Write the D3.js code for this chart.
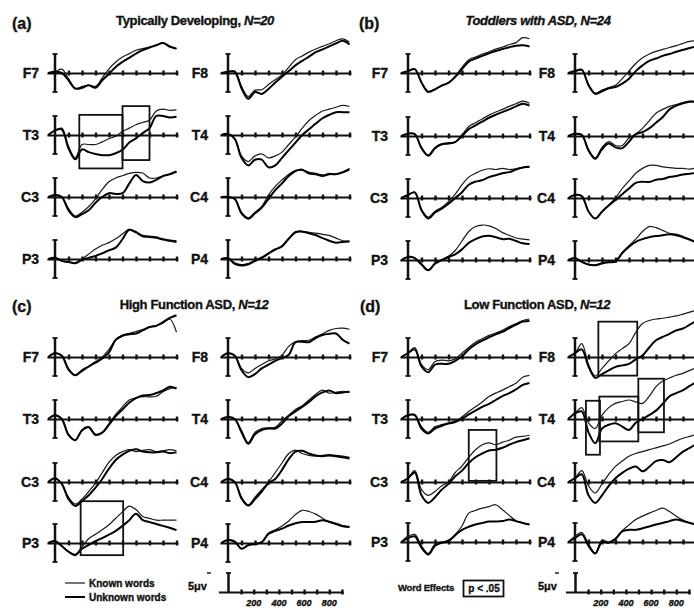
<!DOCTYPE html>
<html><head><meta charset="utf-8">
<script src="https://cdn.jsdelivr.net/npm/d3@7"></script>
<style>
body{margin:0;background:#fff}
svg{display:block}
text{font-family:"Liberation Sans",Arial,Helvetica,sans-serif;fill:#111;font-weight:bold;stroke:#111;stroke-width:0.35px;paint-order:stroke}
</style>
</head><body>
<svg id="chart" width="694" height="608"></svg>
<script>
// ---------------- DATA ----------------
const times = [-50,0,50,100,150,200,250,300,350,400,450,500,550,600,650,700,750,800,850,900];
const leftElectrodes = ["F7","T3","C3","P3"];
const rightElectrodes = ["F8","T4","C4","P4"];
const panelKeys = ["a","b","c","d"];
const panelLetters = ["(a)","(b)","(c)","(d)"];
const panelTitles = ["Typically Developing, ","Toddlers with ASD, ","High Function ASD, ","Low Function ASD, "];
const panelN = ["N=20","N=24","N=12","N=12"];
const tickLabels = [200,400,600,800];
const legendLabels = ["Known words","Unknown words"];
const sigLabel = "Word Effects";
const sigText = "p < .05";
const scaleLabel = "5\u03bcv";

// values in microvolts (plotted upward), one per time point
const a_F7_known   = [0,0.3,1.0,-1.5,-4.0,-3.6,-3.2,-3.5,-1.3,1.1,2.9,4.2,5.1,6.0,6.4,6.8,7.3,7.9,6.8,6.4];
const a_F7_unknown = [0,0.3,0,-1.9,-4.1,-3.9,-3.2,-3.9,-1.9,-0.2,1.6,2.9,4.0,5.1,6.0,6.7,7.3,7.9,7.0,6.4];
const a_F8_known   = [0,0.3,0.5,-3.5,-6.2,-4.5,-4.4,-3.0,-1.8,-0.5,1.5,3.5,4.5,5.5,6.3,7.0,7.7,8.5,9.0,8.1];
const a_F8_unknown = [0,0.3,0.3,-4.0,-6.8,-5.0,-5.5,-4.2,-2.5,-1.0,0.5,2.0,3.2,4.3,5.5,6.2,7.0,7.8,8.5,7.5];
const a_T3_known   = [0,1.2,1.8,-3.0,-6.0,-2.5,-2.5,-2.5,-1.8,-1.0,-0.3,0.9,1.8,2.7,3.3,3.9,6.3,6.8,6.5,6.6];
const a_T3_unknown = [0,1.2,1.5,-3.5,-6.4,-3.8,-4.5,-5.0,-5.3,-5.3,-4.8,-3.9,-2.0,-0.9,0.5,1.8,5.0,5.0,4.6,4.8];
const a_T4_known   = [0,0.3,-1.0,-5.5,-7.0,-5.5,-5.0,-6.0,-5.5,-4.5,-2.5,-0.5,1.8,3.8,5.2,6.3,6.8,7.3,7.8,7.5];
const a_T4_unknown = [0,0.3,-1.0,-6.0,-8.0,-6.5,-6.5,-8.5,-8.0,-6.0,-4.0,-2.0,0,1.5,3.0,4.4,5.3,6.0,6.0,6.0];
const a_C3_known   = [0,0.5,0,-3.0,-5.0,-4.0,-2.5,-0.5,2.0,4.0,5.0,5.6,6.2,6.5,6.3,5.0,5.0,5.6,6.0,6.7];
const a_C3_unknown = [0,0.5,0,-3.5,-5.3,-4.5,-3.5,-1.5,0,1.0,0.8,1.0,3.5,5.8,4.2,3.8,4.5,5.5,6.0,6.7];
const a_C4_known   = [0,0,-0.5,-4.0,-5.5,-4.0,-2.5,0.5,2.8,4.5,6.0,7.0,7.0,6.5,6.2,5.8,6.2,6.0,6.5,7.5];
const a_C4_unknown = [0,0,-0.5,-4.3,-5.7,-4.3,-2.8,-0.5,1.8,3.6,5.5,6.8,7.2,6.2,6.0,5.5,6.0,6.0,6.5,7.3];
const a_P3_known   = [0,0.3,-0.5,-0.8,-1.0,0,1.3,2.6,3.6,4.3,5.3,6.6,7.8,7.2,6.2,6.0,5.8,5.3,5.0,4.8];
const a_P3_unknown = [0,0.3,-0.5,-0.8,-1.1,-0.2,0.3,0.8,1.5,2.3,3.0,5.2,7.7,7.0,6.0,5.8,5.6,5.1,4.8,4.5];
const a_P4_known   = [0,0.2,-1.0,-1.5,-1.2,-0.3,0.5,1.6,2.6,3.5,5.5,7.2,7.3,7.0,6.8,6.5,6.2,5.5,4.8,4.7];
const a_P4_unknown = [0,0.2,-1.3,-1.7,-1.4,-0.5,0.3,1.4,2.5,3.3,5.3,7.0,7.2,6.8,6.3,5.5,4.8,4.3,4.5,4.6];

const b_F7_known   = [0,0.5,1.0,-2.5,-4.8,-4.2,-3.3,-2.5,-0.8,1.5,3.5,4.2,5.0,5.6,6.3,6.8,7.5,8.0,9.3,9.0];
const b_F7_unknown = [0,0.5,1.0,-2.5,-5.0,-4.3,-3.3,-2.6,-1.0,1.0,3.0,3.8,4.5,5.2,5.8,6.3,6.8,7.2,7.3,7.0];
const b_F8_known   = [0,0.5,1.0,-3.0,-5.3,-4.5,-3.8,-3.2,-1.5,0.5,2.5,4.0,5.0,5.7,6.2,6.7,7.2,7.8,8.3,8.5];
const b_F8_unknown = [0,0.5,0.8,-3.2,-5.5,-4.8,-4.0,-3.7,-2.8,-1.5,0.5,2.0,3.2,3.8,4.5,5.0,5.6,6.1,6.6,7.0];
const b_T3_known   = [0,0.6,0.5,-3.0,-5.0,-3.0,-2.0,-1.8,-1.5,0.3,2.5,3.5,4.5,5.5,6.3,7.0,7.8,8.5,9.2,8.6];
const b_T3_unknown = [0,0.6,0.5,-3.2,-5.2,-3.2,-2.2,-2.0,-1.6,0,1.8,2.8,3.8,4.8,5.6,6.3,7.0,7.8,8.5,8.0];
const b_T4_known   = [0,0.6,0.3,-3.5,-5.8,-3.0,-1.5,-2.5,-2.5,-0.5,0.5,2.0,4.0,6.0,7.0,7.8,8.3,8.8,9.2,9.0];
const b_T4_unknown = [0,0.6,0.3,-3.8,-6.0,-3.5,-2.0,-3.0,-3.2,-1.5,0.5,1.0,2.0,3.5,5.0,7.0,8.0,8.6,9.0,9.0];
const b_C3_known   = [0,0.8,1.5,-3.0,-5.0,-3.5,-2.5,-1.0,1.0,3.5,5.5,6.5,7.3,7.7,7.5,7.8,7.5,7.7,8.0,8.2];
const b_C3_unknown = [0,0.8,1.5,-3.2,-5.4,-3.8,-2.8,-1.5,0,1.5,3.5,4.3,4.7,5.5,6.0,6.5,6.8,7.5,8.0,8.2];
const b_C4_known   = [0,0.8,0.5,-3.5,-5.4,-3.5,-1.8,0,2.5,4.5,6.5,7.8,8.6,8.6,8.2,8.0,7.8,7.8,7.6,8.0];
const b_C4_unknown = [0,0.8,0.5,-3.5,-5.4,-3.6,-2.0,-0.5,1.0,2.5,4.0,4.3,4.2,4.8,5.0,5.5,5.8,6.2,6.4,6.6];
const b_P3_known   = [0,0.8,0.5,-1.0,-2.6,-0.8,0,1.0,2.5,5.0,7.5,8.8,9.2,9.0,8.3,7.2,6.5,5.8,5.5,5.3];
const b_P3_unknown = [0,0.8,0.5,-1.2,-2.7,-1.0,0,0.8,1.5,2.8,4.5,5.5,6.2,6.4,6.0,5.5,5.6,5.0,4.4,4.2];
const b_P4_known   = [0,0.5,-0.5,-1.2,-1.3,-0.8,-0.5,-0.3,2.0,3.8,5.5,7.5,8.8,8.5,7.8,7.0,6.8,6.2,5.5,4.8];
const b_P4_unknown = [0,0.5,-0.5,-1.2,-1.4,-0.9,-0.6,-0.4,1.8,3.5,4.8,5.5,6.0,6.3,6.5,6.8,6.5,6.0,5.3,4.6];

const c_F7_known   = [0,1.0,0.5,-3.0,-4.8,-3.8,-2.5,-1.2,0,2.0,4.6,5.8,6.2,6.7,7.2,7.9,8.3,8.9,10.0,6.5];
const c_F7_unknown = [0,1.0,0.3,-3.3,-4.8,-3.5,-2.5,-1.5,-0.4,1.2,4.5,5.6,6.0,6.2,7.0,7.9,8.2,9.2,10.3,11.0];
const c_F8_known   = [0,1.0,0.5,-3.0,-4.2,-3.0,-2.0,-1.0,-0.5,0.5,2.8,4.0,4.3,4.4,5.3,6.1,7.0,7.5,7.6,7.3];
const c_F8_unknown = [0,1.0,0.3,-3.5,-5.3,-4.5,-3.0,-2.0,-1.0,-0.3,0.6,3.9,4.0,3.9,5.0,5.8,6.1,6.2,4.5,3.5];
const c_T3_known   = [0,1.0,0,-4.0,-5.5,-2.8,-2.0,-4.0,-3.5,-1.2,1.2,3.2,5.0,5.6,5.9,5.8,6.0,7.2,8.0,8.3];
const c_T3_unknown = [0,1.0,0,-4.2,-5.6,-3.0,-2.2,-4.2,-3.6,-1.5,0.8,2.5,4.3,5.5,6.2,6.3,6.8,7.5,8.5,8.0];
const c_T4_known   = [0,0.5,0,-3.0,-6.2,-3.5,-2.5,-2.3,-2.2,-0.5,1.0,2.5,3.5,5.0,6.5,7.6,6.8,7.0,7.3,7.0];
const c_T4_unknown = [0,0.5,0,-3.5,-6.5,-4.0,-2.9,-2.5,-2.5,-1.2,0.8,2.0,3.2,4.5,6.0,7.0,7.5,6.8,7.0,7.2];
const c_C3_known   = [0,1.0,-0.5,-4.0,-5.8,-4.5,-2.5,-0.3,2.5,5.2,7.0,8.0,8.5,8.0,8.3,8.5,8.0,8.2,8.5,8.2];
const c_C3_unknown = [0,1.0,-0.5,-4.5,-6.3,-5.0,-3.5,-1.5,0.8,3.5,5.8,7.2,8.2,8.6,8.0,7.8,7.8,8.0,7.6,7.8];
const c_C4_known   = [0,0.8,0,-4.0,-6.0,-4.0,-2.0,0,2.5,5.0,7.5,8.4,7.5,7.0,6.8,7.0,7.2,7.0,6.8,6.5];
const c_C4_unknown = [0,0.8,0,-4.3,-6.2,-4.5,-2.5,-0.3,0.8,3.2,6.0,8.0,8.2,7.5,7.0,6.8,7.0,6.8,6.5,6.2];
const c_P3_known   = [0,0.5,-0.8,-2.2,-3.0,-1.0,1.2,2.3,3.5,4.8,6.5,8.2,9.7,8.8,7.0,6.5,6.0,6.0,6.0,6.0];
const c_P3_unknown = [0,0.5,-0.8,-2.3,-3.2,-1.5,-0.5,0.5,1.3,2.2,3.2,4.5,6.0,7.7,6.0,5.5,5.0,4.5,4.0,3.4];
const c_P4_known   = [0,0.8,0.5,-1.5,-0.5,-0.2,0.3,2.6,3.5,4.5,5.8,7.5,8.6,8.3,7.6,6.5,5.5,5.2,4.6,4.3];
const c_P4_unknown = [0,0.8,0.3,-1.5,-0.6,-0.3,0.2,2.4,3.2,3.8,4.6,5.2,5.5,5.5,5.6,6.0,5.6,5.0,4.4,4.2];

const d_F7_known   = [0,1.0,2.5,-2.0,-3.3,-1.2,-0.8,-1.0,-0.5,1.0,2.5,3.9,4.8,5.7,6.3,7.0,8.0,8.8,9.6,10.0];
const d_F7_unknown = [0,1.0,2.0,-2.5,-4.0,-2.0,-1.8,-1.8,-1.0,0.2,2.0,3.3,4.3,5.2,6.0,6.6,7.6,8.5,9.3,9.5];
const d_F8_known   = [0,1.0,3.5,-2.0,-5.0,-3.0,-1.0,0.9,2.2,3.5,6.5,8.8,9.6,10.0,10.2,10.5,10.8,11.3,11.8,12.3];
const d_F8_unknown = [0,1.0,2.0,-2.5,-5.5,-4.5,-3.5,-2.6,-2.2,-1.8,-0.6,0.4,2.5,4.4,5.3,6.1,7.0,7.5,8.5,9.6];
const d_T3_known   = [0,1.0,1.2,-2.0,-3.5,-2.0,-1.5,-1.0,-0.5,0.5,2.0,3.2,4.5,5.9,6.8,7.6,8.5,9.4,11.0,11.5];
const d_T3_unknown = [0,1.0,1.0,-2.5,-3.8,-2.5,-1.8,-1.2,-0.8,0,1.2,2.2,3.2,4.0,5.0,6.0,6.8,7.8,9.0,9.5];
const d_T4_known   = [0,1.5,3.0,-1.0,-2.5,1.0,3.0,4.1,4.6,5.0,4.5,4.1,6.0,8.5,10.0,10.8,11.5,12.0,12.8,13.5];
const d_T4_unknown = [0,1.5,2.0,-3.5,-6.4,-2.5,-1.5,-1.1,-2.0,-2.9,-1.0,0,1.0,2.2,4.0,6.0,6.8,7.6,8.7,9.8];
const d_C3_known   = [0,1.0,3.0,-2.0,-3.5,-2.5,-1.0,0,2.5,4.2,6.5,8.5,9.8,10.3,9.8,10.5,11.0,11.8,12.0,12.3];
const d_C3_unknown = [0,1.0,2.5,-3.5,-5.5,-4.0,-2.0,-0.5,1.5,3.0,5.0,6.5,7.5,8.3,8.5,9.0,9.8,10.5,11.0,11.5];
const d_C4_known   = [0,1.0,3.0,-1.0,-2.9,-0.5,2.0,4.1,5.5,6.8,7.5,8.0,8.5,9.0,9.5,10.0,10.8,11.5,12.0,12.5];
const d_C4_unknown = [0,1.0,2.0,-3.5,-5.5,-3.5,-1.0,1.0,2.4,3.5,4.1,2.8,4.0,5.5,5.8,5.2,6.5,8.0,9.0,10.0];
const d_P3_known   = [0,1.5,2.0,-1.0,-3.0,-0.5,0,0.5,2.0,4.2,7.6,8.3,8.9,9.3,9.8,8.5,7.0,5.6,5.0,4.6];
const d_P3_unknown = [0,1.0,1.5,-1.5,-3.3,-1.0,-0.2,0.2,1.8,3.2,4.0,4.6,5.0,5.4,5.4,5.5,5.9,5.5,5.0,4.6];
const d_P4_known   = [0,1.5,2.5,-0.5,-2.9,0.5,0,1.0,3.0,4.5,5.9,6.8,7.6,8.3,8.9,8.0,6.8,5.8,5.0,4.8];
const d_P4_unknown = [0,1.0,2.0,-1.0,-3.0,0,-0.2,0.8,2.8,3.2,3.2,3.6,4.1,4.6,5.0,5.5,5.9,5.5,5.0,4.6];

// significant word-effect windows: [electrode, startMs, endMs, topUV, bottomUV]
const boxes_a = [["T3",180,500,5.3,-8.8],["T3",500,700,7.6,-6.6]];
const boxes_b = [];
const boxes_c = [["P3",190,505,11.0,-3.2]];
const boxes_d = [["F8",173,461,9.3,-4.9],["T4",81,185,4.8,-9.4],["T4",180,469,5.9,-5.9],["T4",469,659,10.6,-3.5],["C3",450,655,13.7,0.3]];

// lookup assembled from the named arrays
const waves = {
  a:{F7:[a_F7_known,a_F7_unknown],F8:[a_F8_known,a_F8_unknown],T3:[a_T3_known,a_T3_unknown],T4:[a_T4_known,a_T4_unknown],C3:[a_C3_known,a_C3_unknown],C4:[a_C4_known,a_C4_unknown],P3:[a_P3_known,a_P3_unknown],P4:[a_P4_known,a_P4_unknown]},
  b:{F7:[b_F7_known,b_F7_unknown],F8:[b_F8_known,b_F8_unknown],T3:[b_T3_known,b_T3_unknown],T4:[b_T4_known,b_T4_unknown],C3:[b_C3_known,b_C3_unknown],C4:[b_C4_known,b_C4_unknown],P3:[b_P3_known,b_P3_unknown],P4:[b_P4_known,b_P4_unknown]},
  c:{F7:[c_F7_known,c_F7_unknown],F8:[c_F8_known,c_F8_unknown],T3:[c_T3_known,c_T3_unknown],T4:[c_T4_known,c_T4_unknown],C3:[c_C3_known,c_C3_unknown],C4:[c_C4_known,c_C4_unknown],P3:[c_P3_known,c_P3_unknown],P4:[c_P4_known,c_P4_unknown]},
  d:{F7:[d_F7_known,d_F7_unknown],F8:[d_F8_known,d_F8_unknown],T3:[d_T3_known,d_T3_unknown],T4:[d_T4_known,d_T4_unknown],C3:[d_C3_known,d_C3_unknown],C4:[d_C4_known,d_C4_unknown],P3:[d_P3_known,d_P3_unknown],P4:[d_P4_known,d_P4_unknown]}
};
const boxes = {a:boxes_a,b:boxes_b,c:boxes_c,d:boxes_d};

// ---------------- LAYOUT ----------------
const layout = {
  a:{cols:[55,228], rows:[73,135,197,259], letterX:12, titleX:195, titleY:25, letterY:29, labelGap:[16,20]},
  b:{cols:[408,575], rows:[73,136,198,260], letterX:359, titleX:538, titleY:25, letterY:29, labelGap:[20,20]},
  c:{cols:[55,228], rows:[357,419,482,543], letterX:12, titleX:194, titleY:309, letterY:312, labelGap:[16,20]},
  d:{cols:[408,575], rows:[357,419,482,542], letterX:360, titleX:537, titleY:309, letterY:312, labelGap:[20,20]}
};
const PX_PER_MS = 0.135, HALF_BAR = 19; // 5 microvolts = 19 px

const svg = d3.select("#chart");
const ink = "#111";

function miniPlot(g, x0, y0, known, unknown, label, gap, boxList){
  const x = d3.scaleLinear().domain([-60, 910]).range([x0 - 60*PX_PER_MS, x0 + 910*PX_PER_MS]);
  const y = d3.scaleLinear().domain([-5, 5]).range([y0 + HALF_BAR, y0 - HALF_BAR]);
  const ax = g.append("g").attr("transform", `translate(0,${y0})`)
    .call(d3.axisBottom(x).tickValues(d3.range(100, 1000, 100)).tickSize(2.5).tickSizeOuter(0).tickFormat(""));
  ax.select(".domain").attr("stroke", ink).attr("stroke-width", 2);
  ax.selectAll(".tick line").attr("y1", -2.5).attr("y2", 2.5).attr("stroke", ink).attr("stroke-width", 2.4);
  g.append("line").attr("x1", x(0)).attr("x2", x(0)).attr("y1", y(-5)).attr("y2", y(5)).attr("stroke", ink).attr("stroke-width", 2.5);
  [-5,5].forEach(v => g.append("line").attr("x1", x(0)-2.5).attr("x2", x(0)+2.5).attr("y1", y(v)).attr("y2", y(v)).attr("stroke", ink).attr("stroke-width", 1.8));
  g.append("text").attr("x", x0 - gap).attr("y", y0 + 5).attr("text-anchor", "end").attr("font-size", 14).text(label);
  const line = d3.line().x((d,i) => x(times[i])).y(d => y(d)).curve(d3.curveCatmullRom.alpha(0.5));
  g.append("path").attr("d", line(known)).attr("fill", "none").attr("stroke", "#1a1a1a").attr("stroke-width", 1.2);
  g.append("path").attr("d", line(unknown)).attr("fill", "none").attr("stroke", "#000").attr("stroke-width", 2);
  boxList.filter(b => b[0] === label).forEach(b => {
    g.append("rect").attr("x", x(b[1])).attr("y", y(b[3])).attr("width", x(b[2]) - x(b[1])).attr("height", y(b[4]) - y(b[3]))
      .attr("fill", "none").attr("stroke", ink).attr("stroke-width", 1.8);
  });
}

panelKeys.forEach((k, pi) => {
  const L = layout[k];
  const g = svg.append("g");
  g.append("text").attr("x", L.letterX).attr("y", L.letterY).attr("font-size", 16).text(panelLetters[pi]);
  const t = g.append("text").attr("x", L.titleX).attr("y", L.titleY).attr("text-anchor", "middle").attr("font-size", 13)
    .attr("letter-spacing", -0.35).attr("font-style", k === "b" ? "italic" : "normal");
  t.append("tspan").text(panelTitles[pi]);
  t.append("tspan").attr("font-style", "italic").text(panelN[pi]);
  [leftElectrodes, rightElectrodes].forEach((els, ci) => {
    els.forEach((el, ri) => {
      const w = waves[k][el];
      miniPlot(g, L.cols[ci], L.rows[ri], w[0], w[1], el, L.labelGap[ci], boxes[k]);
    });
  });
});

// ---------------- SCALE ROWS ----------------
function scaleRow(x0, y0, textX, dashX){
  const g = svg.append("g");
  const x = d3.scaleLinear().domain([-80, 910]).range([x0 - 80*0.126, x0 + 910*0.126]);
  const y = d3.scaleLinear().domain([0, 5]).range([y0, y0 - HALF_BAR]);
  const ax = g.append("g").attr("transform", `translate(0,${y0})`)
    .call(d3.axisBottom(x).tickValues(d3.range(100, 1000, 100)).tickSize(2.5).tickSizeOuter(0).tickFormat(""));
  ax.select(".domain").attr("stroke", ink).attr("stroke-width", 2);
  ax.selectAll(".tick line").attr("y1", -2.5).attr("y2", 2.5).attr("stroke", ink).attr("stroke-width", 2.4);
  g.append("line").attr("x1", x(0)).attr("x2", x(0)).attr("y1", y(0)).attr("y2", y(5)).attr("stroke", ink).attr("stroke-width", 2.5);
  g.append("line").attr("x1", x(0)-2.5).attr("x2", x(0)+2.5).attr("y1", y(5)).attr("y2", y(5)).attr("stroke", ink).attr("stroke-width", 1.8);
  g.selectAll("text.tl").data(tickLabels).join("text").attr("class","tl")
    .attr("x", d => x(d)).attr("y", 606).attr("text-anchor", "middle").attr("font-size", 9).attr("font-style", "italic").text(d => d);
  g.append("text").attr("x", textX).attr("y", 590).attr("font-size", 11).text(scaleLabel);
  g.append("line").attr("x1", dashX).attr("x2", dashX + 4).attr("y1", 573).attr("y2", 573).attr("stroke", ink).attr("stroke-width", 1.4);
}
scaleRow(228.5, 592, 188, 207);
scaleRow(575.5, 592, 538, 555);

// legend (panel c)
const lg = svg.append("g");
lg.append("line").attr("x1", 65).attr("x2", 85).attr("y1", 583).attr("y2", 583).attr("stroke", "#1a1a1a").attr("stroke-width", 1.2);
lg.append("line").attr("x1", 65).attr("x2", 85).attr("y1", 597).attr("y2", 597).attr("stroke", "#000").attr("stroke-width", 2);
lg.append("text").attr("x", 89).attr("y", 586.5).attr("font-size", 10).text(legendLabels[0]);
lg.append("text").attr("x", 89).attr("y", 600.5).attr("font-size", 10).text(legendLabels[1]);

// significance key (panel d)
const sk = svg.append("g");
sk.append("text").attr("x", 398).attr("y", 591).attr("font-size", 9.5).attr("letter-spacing", -0.2).text(sigLabel);
sk.append("rect").attr("x", 463.5).attr("y", 580.5).attr("width", 40).attr("height", 16).attr("fill", "none").attr("stroke", ink).attr("stroke-width", 1.8);
sk.append("text").attr("x", 484).attr("y", 592).attr("text-anchor", "middle").attr("font-size", 10).text(sigText);
</script>
</body></html>
